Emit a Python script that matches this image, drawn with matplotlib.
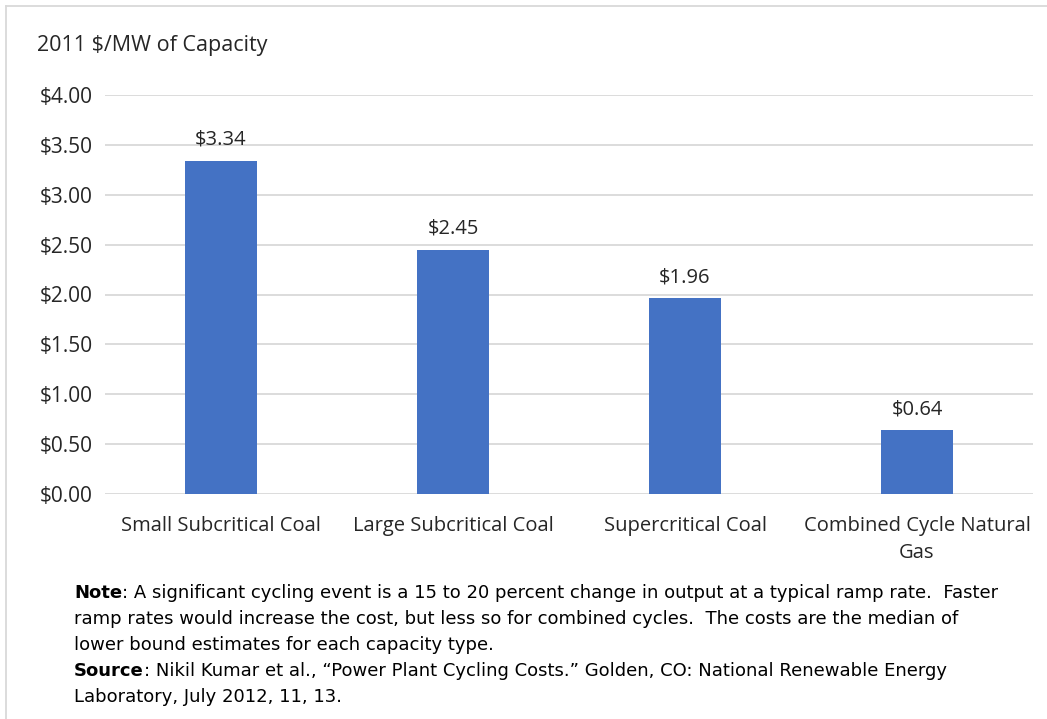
import matplotlib
matplotlib.use("Agg")
import matplotlib.pyplot as plt
from matplotlib.lines import Line2D
from matplotlib.ticker import FuncFormatter

categories = ["Small Subcritical Coal", "Large Subcritical Coal",
              "Supercritical Coal", "Combined Cycle Natural\nGas"]
costs = [3.34, 2.45, 1.96, 0.64]
yticks = [0.0, 0.5, 1.0, 1.5, 2.0, 2.5, 3.0, 3.5, 4.0]
unit_label = "2011 $/MW of Capacity"
note_lines = [
    ("Note", ": A significant cycling event is a 15 to 20 percent change in output at a typical ramp rate.  Faster"),
    ("", "ramp rates would increase the cost, but less so for combined cycles.  The costs are the median of"),
    ("", "lower bound estimates for each capacity type."),
    ("Source", ": Nikil Kumar et al., \u201cPower Plant Cycling Costs.\u201d Golden, CO: National Renewable Energy"),
    ("", "Laboratory, July 2012, 11, 13."),
]

W, H = 1047, 719
fig = plt.figure(figsize=(W / 100, H / 100), dpi=100)
text_color = "#262626"
font = "Open Sans"
note_font = "DejaVu Sans"

# plot area: x 105..1033 px, y 95..494 px
ax = fig.add_axes([105 / W, 1 - 494 / H, (1033 - 105) / W, (494 - 95) / H])
x = range(len(categories))
bars = ax.bar(x, costs, width=0.31, color="#4472C4", zorder=3)
ax.set_xlim(-0.5, len(categories) - 0.5)
ax.set_ylim(0, 4.0)
ax.set_yticks(yticks)
ax.yaxis.set_major_formatter(FuncFormatter(lambda v, p: f"${v:.2f}"))
ax.set_xticks(list(x))
ax.set_xticklabels(categories, fontsize=14.5, color=text_color, family=font,
                   linespacing=1.45)
ax.tick_params(axis="y", labelsize=15, labelcolor=text_color, length=0, pad=9)
ax.tick_params(axis="x", length=0, pad=16)
for lbl in ax.get_yticklabels():
    lbl.set_family(font)
ax.grid(axis="y", color="#D9D9D9", linewidth=1.3, zorder=0)
for s in ax.spines.values():
    s.set_visible(False)
for b, v in zip(bars, costs):
    ax.annotate(f"${v:.2f}", (b.get_x() + b.get_width() / 2, v),
                xytext=(0, 8), textcoords="offset points", ha="center",
                va="bottom", fontsize=14.5, color=text_color, family=font)

fig.text(37 / W, 1 - 45 / H, unit_label, fontsize=15.5, color=text_color,
         family=font, va="center", ha="left")

# outer frame (top and left edges)
fig.add_artist(Line2D([6 / W, 6 / W], [0, 1 - 6 / H], color="#D9D9D9",
                      linewidth=1.3, transform=fig.transFigure))
fig.add_artist(Line2D([6 / W, 1], [1 - 6 / H, 1 - 6 / H], color="#D9D9D9",
                      linewidth=1.3, transform=fig.transFigure))

# notes below the chart
fig.canvas.draw()
renderer = fig.canvas.get_renderer()
y0 = 593
for i, (bold, rest) in enumerate(note_lines):
    yy = 1 - (y0 + 26 * i) / H
    xx = 74 / W
    if bold:
        t = fig.text(xx, yy, bold, fontsize=13, fontweight="bold",
                     family=note_font, color="black", va="center", ha="left")
        bb = t.get_window_extent(renderer)
        xx = bb.x1 / W
    fig.text(xx, yy, rest, fontsize=13, family=note_font, color="black",
             va="center", ha="left")

fig.savefig("out.png", dpi=100)
